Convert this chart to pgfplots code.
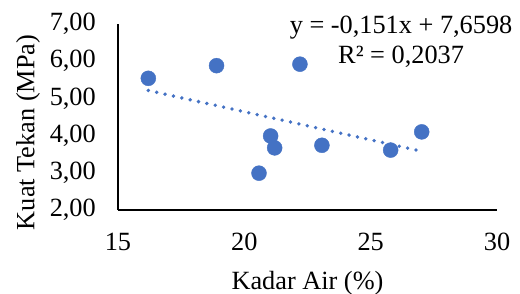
\documentclass[border=0pt]{standalone}
\usepackage{pgfplots}
\pgfplotsset{compat=1.18}
\usepackage{fontspec}
\setmainfont{Liberation Serif}
\definecolor{xlblue}{HTML}{4472C4}
\begin{document}
\begin{tikzpicture}
\path[use as bounding box] (-118bp,-84bp) rectangle (402bp,210bp);
\begin{axis}[
  at={(0,0)}, anchor=south west,
  scale only axis,
  width=379bp, height=186bp,
  xmin=15, xmax=30, ymin=2, ymax=7,
  xtick={15,20,25,30},
  ytick={2,3,4,5,6,7},
  axis lines=left,
  axis line style={black, line width=1.2pt, -},
  major tick length=0pt,
  font=\fontsize{26.3bp}{31bp}\selectfont,
  /pgf/number format/assume math mode=true,
  yticklabel style={/pgf/number format/.cd, fixed, fixed zerofill, precision=2, use comma, /tikz/.cd, inner sep=0pt, xshift=-22bp},
  xticklabel style={inner sep=0pt, yshift=-23bp},
  xlabel={Kadar Air (\%)},
  ylabel={Kuat Tekan (MPa)},
  xlabel style={at={(axis description cs:0.5,-0.425)}, anchor=base, inner sep=0pt},
  ylabel style={at={(axis description cs:-0.2375,0.417)}, anchor=center, inner sep=0pt},
  clip=false,
]
\addplot[only marks, mark=*, mark size=7.5bp, mark options={fill=xlblue, draw=xlblue}]
coordinates {
(16.2,5.54) (18.9,5.88) (22.2,5.92) (21.04,3.99) (21.2,3.67)
(20.58,2.99) (23.07,3.74) (25.79,3.61) (27.02,4.10)
};
\addplot[xlblue, line width=3.8pt, line cap=round, dash pattern=on 0pt off 8.6pt]
coordinates {(16.2,5.2136) (27.02,3.5796)};
\node[anchor=base, inner sep=0pt] at (axis description cs:0.747,0.949) {y = -0,151x + 7,6598};
\node[anchor=base, inner sep=0pt] at (axis description cs:0.747,0.790) {R² = 0,2037};
\end{axis}
\end{tikzpicture}
\end{document}
